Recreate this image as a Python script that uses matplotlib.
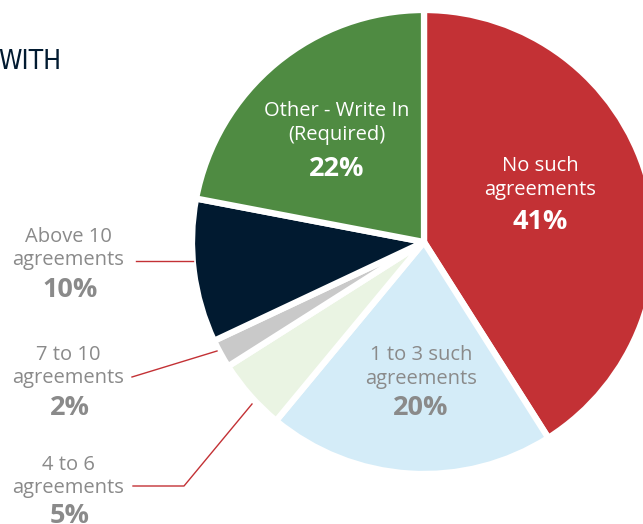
import matplotlib.pyplot as plt

# response shares, clockwise from 12 o'clock
categories = ["No such\nagreements", "1 to 3 such\nagreements", "4 to 6\nagreements",
              "7 to 10\nagreements", "Above 10\nagreements", "Other - Write In\n(Required)"]
shares = [41, 20, 5, 2, 10, 22]
colors = ["#C33135", "#D4ECF8", "#EAF4E3", "#C9C9C9", "#011A30", "#4F8B42"]

GREY = "#8A8A8A"
NAVY = "#011A30"
plt.rcParams["font.family"] = ["Open Sans", "DejaVu Sans"]

fig = plt.figure(figsize=(6.43, 5.24), dpi=100)
ax = fig.add_axes([0, 0, 1, 1])

H = 524
cx, cy, r = 424, H - 242, 232

ax.pie(shares, colors=colors, startangle=90, counterclock=False,
       center=(cx, cy), radius=r, frame=True,
       wedgeprops=dict(edgecolor="white", linewidth=4.5, joinstyle="round"))
ax.set_xlim(0, 643)
ax.set_ylim(0, 524)
ax.set_aspect("equal")
ax.axis("off")

# labels inside the big slices
inside = [(0, 540, 178, 222, "white"), (1, 421, 367, 408, GREY), (5, 337, 123, 169, "white")]
for i, x, y1, y2, c in inside:
    ax.text(x, H - y1, categories[i], ha="center", va="center", fontsize=14.5,
            color=c, linespacing=1.25)
    ax.text(x, H - y2, f"{shares[i]}%", ha="center", va="center", fontsize=19.5,
            fontweight="bold", color=c)

# labels outside the small slices, with leader lines
outside = [(4, 249, 290, [(136, 261), (193, 261)]),
           (3, 367, 408, [(132, 377), (217, 351)]),
           (2, 476, 516, [(133, 486), (184, 486), (252, 404)])]
for i, y1, y2, pts in outside:
    ax.text(68, H - y1, categories[i], ha="center", va="center", fontsize=14.5,
            color=GREY, linespacing=1.2)
    ax.text(70, H - y2, f"{shares[i]}%", ha="center", va="center", fontsize=19.5,
            fontweight="bold", color=GREY)
    ax.plot([p[0] for p in pts], [H - p[1] for p in pts], color="#C33135", lw=1)

# tail end of the heading
ax.text(-2, H - 62, "WITH", ha="left", va="center", fontsize=19, color=NAVY,
        family=["DejaVu Sans"], fontstretch="condensed")

fig.savefig("out.png", dpi=100)
